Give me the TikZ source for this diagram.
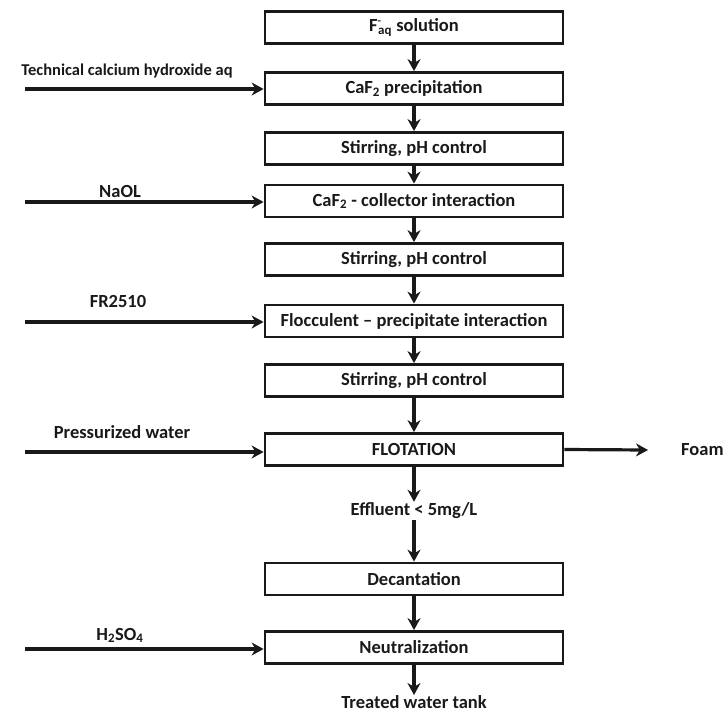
\documentclass[tikz,border=0pt]{standalone}
\usepackage{fontspec}
\setmainfont{Carlito}
\usetikzlibrary{arrows.meta}
\newcommand{\Fminus}{F\rlap{\raisebox{0.75ex}{\fontsize{11}{11}\selectfont -}}\kern0.5pt\textsubscript{aq}}
\begin{document}
\begin{tikzpicture}[x=1pt,y=-1pt,
  every node/.style={font=\bfseries\fontsize{18.5}{21}\selectfont, text=black!90},
  procbox/.style={draw=black!90, line width=2.8pt, minimum width=298pt, minimum height=32pt, inner sep=0pt},
  flow/.style={draw=black!90, line width=3.2pt, -{Stealth[length=12pt,width=13pt]}},
  lbl/.style={anchor=base, inner sep=0pt}]
\useasboundingbox (0,0) rectangle (723,715);
\node[procbox] (b1) at (414,27.5) {\Fminus\ solution};
\node[procbox] (b2) at (414,88.5) {CaF\textsubscript{2} precipitation};
\node[procbox] (b3) at (414,148.5) {Stirring, pH control};
\node[procbox] (b4) at (414,201) {CaF\textsubscript{2} - collector interaction};
\node[procbox] (b5) at (414,259.5) {Stirring, pH control};
\node[procbox] (b6) at (414,321) {Flocculent – precipitate interaction};
\node[procbox] (b7) at (414,380.5) {Stirring, pH control};
\node[procbox] (b8) at (414,449.5) {FLOTATION};
\node[inner sep=1pt] (eff) at (414,511) {Effluent < 5mg/L};
\node[procbox] (b9) at (414,579) {Decantation};
\node[procbox] (b10) at (414,647.5) {Neutralization};
\node[anchor=north, inner sep=0pt] (tank) at (414,695) {Treated water tank};
\node[anchor=west, inner sep=0pt] (foam) at (681,450) {Foam};
\coordinate (foamend) at (648,450);
% feed labels
\node[lbl, font=\bfseries\fontsize{16.5}{19}\selectfont] (l1) at (127,75) {Technical calcium hydroxide aq};
\node[lbl] (l2) at (120,197) {NaOL};
\node[lbl] (l3) at (118,307) {FR2510};
\node[lbl] (l4) at (122,438) {Pressurized water};
\node[lbl] (l5) at (120,640) {H\textsubscript{2}SO\textsubscript{4}};
\coordinate (s1) at (25,89);
\coordinate (s2) at (25,202);
\coordinate (s3) at (25,322);
\coordinate (s4) at (25,452);
\coordinate (s5) at (25,649);
% main flow
\draw[flow] (b1) -- (b2);
\draw[flow] (b2) -- (b3);
\draw[flow] (b3) -- (b4);
\draw[flow] (b4) -- (b5);
\draw[flow] (b5) -- (b6);
\draw[flow] (b6) -- (b7);
\draw[flow] (b7) -- (b8);
\draw[flow] (b8) -- (eff);
\draw[flow] (eff) -- (b9);
\draw[flow] (b9) -- (b10);
\draw[flow] (b10) -- (tank);
\draw[flow] (b8.east) -- (foamend);
% feeds
\draw[flow] (s1) -- (s1 -| b2.west);
\draw[flow] (s2) -- (s2 -| b4.west);
\draw[flow] (s3) -- (s3 -| b6.west);
\draw[flow] (s4) -- (s4 -| b8.west);
\draw[flow] (s5) -- (s5 -| b10.west);
\end{tikzpicture}
\end{document}
